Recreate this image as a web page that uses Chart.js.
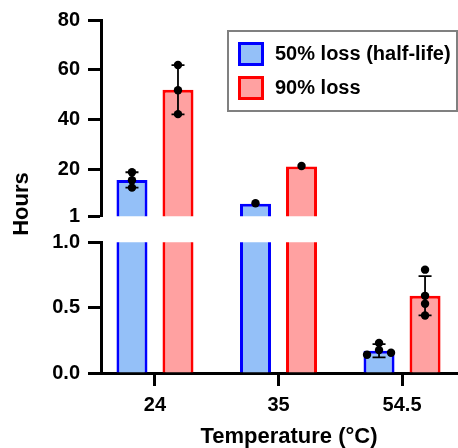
<!DOCTYPE html>
<html>
<head>
<meta charset="utf-8">
<script src="https://cdn.jsdelivr.net/npm/chart.js@4/dist/chart.umd.min.js"></script>
<style>
  html, body { margin: 0; padding: 0; background: #fff; }
  #wrap { width: 458px; height: 448px; }
</style>
</head>
<body>
<div id="wrap"><canvas id="chart"></canvas></div>
<script>
// categories and series
const temperatures = ['24', '35', '54.5'];
const seriesLabels = ['50% loss (half-life)', '90% loss'];

// bar heights (means, hours)
const halfLifeMeans = [15.6, 6.0, 0.17];
const ninetyMeans = [51.9, 21.0, 0.59];

// error bars (SD, hours)
const halfLifeSD = [3.1, 0, 0.05];
const ninetySD = [9.9, 0, 0.15];

// individual replicates
const halfLifePoints = [[18.7, 15.5, 12.5], [6.2], [0.14, 0.23, 0.175, 0.155]];
const ninetyPoints = [[61.9, 51.7, 42.1], [21.2], [0.79, 0.59, 0.53, 0.44]];
// horizontal spread of replicate dots (in dot widths)
const halfLifeJitter = [[0, 0, 0], [0], [-1.5, 0, 0, 1.5]];
const ninetyJitter = [[0, 0, 0], [0], [0, 0, 0, 0]];

// axis ticks
const upperTicks = [1, 20, 40, 60, 80];
const lowerTicks = [0, 0.5, 1.0];

const FONT = "'Liberation Sans', Arial, sans-serif";
const BLUE = '#0000ff', BLUE_FILL = '#94c0f8';
const RED = '#ff0000', RED_FILL = '#ffa1a1';
const GAP = 26;          // axis break height
const UPPER_SHARE = 0.6; // share of the plot height for 1..80

const colors = [[BLUE, BLUE_FILL], [RED, RED_FILL]];
const means = [halfLifeMeans, ninetyMeans];
const sds = [halfLifeSD, ninetySD];
const points = [halfLifePoints, ninetyPoints];
const jitter = [halfLifeJitter, ninetyJitter];

function barSet(s, axis) {
  return {
    label: seriesLabels[s],
    data: means[s].map((v, i) => ({x: i, y: v})),
    yAxisID: axis,
    stack: 's' + s,
    backgroundColor: colors[s][1],
    borderColor: colors[s][0],
    borderWidth: 3,
    borderSkipped: 'start',
    categoryPercentage: 0.745,
    barPercentage: 0.674,
    clip: false
  };
}

// split the stacked y axes and leave a gap between them
const breakPlugin = {
  id: 'axisBreak',
  afterLayout(chart) {
    const a = chart.chartArea;
    const up = chart.scales.yUp, low = chart.scales.yLow;
    const h = a.bottom - a.top - GAP;
    up.top = a.top; up.bottom = a.top + h * UPPER_SHARE; up.height = up.bottom - up.top;
    low.top = up.bottom + GAP; low.bottom = a.bottom; low.height = low.bottom - low.top;
    up.configure(); low.configure();
  },
  beforeDatasetDraw(chart, args) {
    const sc = chart.scales[args.meta.yAxisID];
    const ctx = chart.ctx;
    ctx.save();
    ctx.beginPath();
    if (args.meta.yAxisID === 'yUp') ctx.rect(0, 0, chart.width, sc.bottom);
    else ctx.rect(0, sc.top, chart.width, chart.height - sc.top);
    ctx.clip();
  },
  afterDatasetDraw(chart) {
    chart.ctx.restore();
  }
};

// error bars, replicate dots, legend and axis titles
const extrasPlugin = {
  id: 'extras',
  afterDatasetsDraw(chart) {
    const ctx = chart.ctx;
    const up = chart.scales.yUp, low = chart.scales.yLow;
    const yFor = v => (v >= 1 ? up : low).getPixelForValue(v);
    ctx.save();
    for (let s = 0; s < 2; s++) {
      const bars = chart.getDatasetMeta(s).data;
      means[s].forEach((m, i) => {
        const x = bars[i].x;
        const sd = sds[s][i];
        if (sd > 0) {
          const y1 = yFor(m + sd), y2 = yFor(m - sd);
          ctx.strokeStyle = '#000';
          ctx.lineWidth = 1.8;
          ctx.beginPath();
          ctx.moveTo(x, y1); ctx.lineTo(x, y2);
          ctx.moveTo(x - 6.5, y1); ctx.lineTo(x + 6.5, y1);
          ctx.moveTo(x - 6.5, y2); ctx.lineTo(x + 6.5, y2);
          ctx.stroke();
        }
        points[s][i].forEach((v, k) => {
          ctx.fillStyle = '#000';
          ctx.beginPath();
          ctx.arc(x + jitter[s][i][k] * 8, yFor(v), 4.2, 0, Math.PI * 2);
          ctx.fill();
        });
      });
    }
    ctx.restore();
  },
  afterDraw(chart) {
    const ctx = chart.ctx;
    ctx.save();
    // legend
    ctx.strokeStyle = '#808080';
    ctx.lineWidth = 2;
    ctx.strokeRect(228, 31, 229, 80);
    ctx.font = 'bold 20px ' + FONT;
    ctx.textBaseline = 'middle';
    ctx.textAlign = 'left';
    seriesLabels.forEach((lab, s) => {
      const y = 42 + s * 34;
      ctx.fillStyle = colors[s][1];
      ctx.fillRect(238, y, 26, 24);
      ctx.strokeStyle = colors[s][0];
      ctx.lineWidth = 3;
      ctx.strokeRect(239.5, y + 1.5, 23, 21);
      ctx.fillStyle = '#000';
      ctx.fillText(lab, 275, y + 12);
    });
    // axis titles
    ctx.font = 'bold 22px ' + FONT;
    ctx.textAlign = 'center';
    ctx.fillText('Temperature (°C)', 289, 437);
    ctx.translate(22, 204);
    ctx.rotate(-Math.PI / 2);
    ctx.fillText('Hours', 0, 0);
    ctx.restore();
  }
};

const axisLine = {display: true, color: '#000', width: 3};
const tickGrid = {display: true, drawOnChartArea: false, offset: false, color: '#000', tickColor: '#000', tickWidth: 3, tickLength: 13};
const tickFont = {family: FONT, size: 20, weight: 'bold'};

new Chart(document.getElementById('chart'), {
  type: 'bar',
  data: {
    datasets: [barSet(0, 'yUp'), barSet(1, 'yUp'), barSet(0, 'yLow'), barSet(1, 'yLow')]
  },
  options: {
    responsive: true,
    maintainAspectRatio: false,
    animation: false,
    layout: {padding: {top: 20, right: 0, left: 0, bottom: 0}},
    plugins: {legend: {display: false}, tooltip: {enabled: false}},
    scales: {
      x: {
        type: 'linear',
        offset: false,
        min: -0.437,
        max: 2.453,
        border: axisLine,
        grid: tickGrid,
        ticks: {color: '#000', font: tickFont, padding: 7, autoSkip: false,
          callback: v => temperatures[v]},
        afterBuildTicks: s => { s.ticks = temperatures.map((t, i) => ({value: i})); },
        afterFit: s => { s.height = 75; }
      },
      yLow: {
        type: 'linear',
        position: 'left',
        stack: 'hours',
        stackWeight: 1,
        stacked: false,
        min: 0,
        max: 1,
        border: axisLine,
        grid: tickGrid,
        ticks: {color: '#000', font: tickFont, padding: 8, autoSkip: false,
          callback: v => v.toFixed(1)},
        afterBuildTicks: s => { s.ticks = lowerTicks.map(v => ({value: v})); },
        afterFit: s => { s.width = 101; }
      },
      yUp: {
        type: 'linear',
        position: 'left',
        stack: 'hours',
        stackWeight: 1,
        stacked: false,
        min: 1,
        max: 80,
        border: axisLine,
        grid: tickGrid,
        ticks: {color: '#000', font: tickFont, padding: 8, autoSkip: false},
        afterBuildTicks: s => { s.ticks = upperTicks.map(v => ({value: v})); },
        afterFit: s => { s.width = 101; }
      }
    }
  },
  plugins: [breakPlugin, extrasPlugin]
});
</script>
</body>
</html>
